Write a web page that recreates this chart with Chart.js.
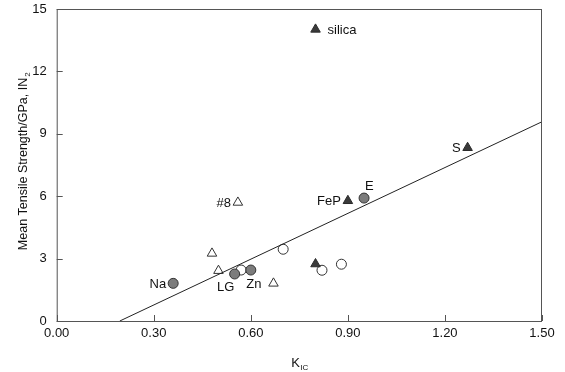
<!DOCTYPE html>
<html>
<head>
<meta charset="utf-8">
<script src="https://cdn.jsdelivr.net/npm/chart.js@4/dist/chart.umd.min.js"></script>
<style>
  html, body { margin: 0; padding: 0; background: #fff; }
  #wrap { width: 565px; height: 372px; }
</style>
</head>
<body>
<div id="wrap"><canvas id="chart" width="565" height="372"></canvas></div>
<script>
// values
const xTicks = [0.00, 0.30, 0.60, 0.90, 1.20, 1.50];
const yTicks = [0, 3, 6, 9, 12, 15];

const filledTriX = [0.80, 1.27, 0.90, 0.80];
const filledTriY = [14.02, 8.33, 5.78, 2.74];
const filledTriNames = ['silica', 'S', 'FeP', ''];

const openTriX = [0.56, 0.48, 0.50, 0.67];
const openTriY = [5.70, 3.25, 2.42, 1.81];
const openTriNames = ['#8', '', '', ''];

const filledCircX = [0.36, 0.55, 0.60, 0.95];
const filledCircY = [1.81, 2.26, 2.45, 5.91];
const filledCircNames = ['Na', 'LG', 'Zn', 'E'];

const openCircX = [0.57, 0.70, 0.82, 0.88];
const openCircY = [2.45, 3.45, 2.44, 2.73];

const fitX = [0.195, 1.50];
const fitY = [0, 9.58];

// where each name sits next to its marker
const placement = { 'silica': 'right', 'S': 'left', 'FeP': 'left', '#8': 'left',
                    'Na': 'left', 'LG': 'belowLeft', 'Zn': 'below', 'E': 'aboveRight' };

const FONT = '"Liberation Sans", Arial, sans-serif';
const INK = '#333';

function pts(xs, ys) { return xs.map((x, i) => ({ x: x, y: ys[i] })); }

const decorPlugin = {
    id: 'decor',
    afterDraw(chart) {
        const ctx = chart.ctx;
        const xs = chart.scales.x, ys = chart.scales.y;
        const a = chart.chartArea;
        ctx.save();
        // frame
        ctx.strokeStyle = '#555';
        ctx.lineWidth = 1;
        ctx.strokeRect(a.left + 0.5, a.top + 0.5, a.right - a.left - 1, a.bottom - a.top);
        // inward ticks
        ctx.beginPath();
        xTicks.forEach(v => {
            const px = Math.round(xs.getPixelForValue(v)) + 0.5;
            ctx.moveTo(px, a.bottom); ctx.lineTo(px, a.bottom - 6);
        });
        yTicks.forEach(v => {
            const py = Math.round(ys.getPixelForValue(v)) + 0.5;
            ctx.moveTo(a.left, py); ctx.lineTo(a.left + 6, py);
        });
        ctx.stroke();

        // point names
        ctx.fillStyle = '#111';
        ctx.font = '13px ' + FONT;
        ctx.textBaseline = 'middle';
        const sets = [[filledTriX, filledTriY, filledTriNames],
                      [openTriX, openTriY, openTriNames],
                      [filledCircX, filledCircY, filledCircNames]];
        sets.forEach(([X, Y, N]) => {
            N.forEach((name, i) => {
                if (!name) return;
                const px = xs.getPixelForValue(X[i]);
                const py = ys.getPixelForValue(Y[i]);
                const p = placement[name];
                if (p === 'right') { ctx.textAlign = 'left'; ctx.fillText(name, px + 12, py + 1); }
                else if (p === 'left') { ctx.textAlign = 'right'; ctx.fillText(name, px - 7, py + 1); }
                else if (p === 'below') { ctx.textAlign = 'center'; ctx.fillText(name, px + 3, py + 14); }
                else if (p === 'belowLeft') { ctx.textAlign = 'center'; ctx.fillText(name, px - 9, py + 13); }
                else if (p === 'aboveRight') { ctx.textAlign = 'left'; ctx.fillText(name, px + 1, py - 12); }
            });
        });

        // axis titles with subscripts
        ctx.fillStyle = '#111';
        ctx.textBaseline = 'alphabetic';
        // x title: K_IC
        ctx.font = '13px ' + FONT;
        ctx.textAlign = 'left';
        const kx = xs.getPixelForValue(0.75) - 8;
        ctx.fillText('K', kx, 367);
        ctx.font = '8px ' + FONT;
        ctx.fillText('IC', kx + 9, 370);
        // y title rotated
        ctx.translate(27, 161);
        ctx.rotate(-Math.PI / 2);
        ctx.font = '12.5px ' + FONT;
        const main = 'Mean Tensile Strength/GPa, IN';
        const w = ctx.measureText(main).width;
        ctx.textAlign = 'left';
        ctx.fillText(main, -w / 2 - 3, 0);
        ctx.font = '8px ' + FONT;
        ctx.fillText('2', w / 2 - 2, 3);
        ctx.restore();
    }
};

const chart = new Chart(document.getElementById('chart'), {
    type: 'scatter',
    data: {
        datasets: [
            {
                label: 'fit',
                type: 'line',
                data: pts(fitX, fitY),
                borderColor: '#222',
                borderWidth: 1,
                pointRadius: 0,
                fill: false
            },
            {
                label: 'filled triangles',
                data: pts(filledTriX, filledTriY),
                pointStyle: 'triangle',
                pointRadius: 5.5,
                backgroundColor: '#3a3a3a',
                borderColor: '#2a2a2a',
                borderWidth: 1
            },
            {
                label: 'open triangles',
                data: pts(openTriX, openTriY),
                pointStyle: 'triangle',
                pointRadius: 5.5,
                backgroundColor: '#fff',
                borderColor: INK,
                borderWidth: 1
            },
            {
                label: 'filled circles',
                data: pts(filledCircX, filledCircY),
                pointStyle: 'circle',
                pointRadius: 5,
                backgroundColor: '#7c7c7c',
                borderColor: INK,
                borderWidth: 1
            },
            {
                label: 'open circles',
                data: pts(openCircX, openCircY),
                pointStyle: 'circle',
                pointRadius: 5,
                backgroundColor: '#fff',
                borderColor: INK,
                borderWidth: 1
            }
        ]
    },
    options: {
        responsive: false,
        animation: false,
        layout: { padding: { left: 0, right: 23, top: 9, bottom: 0 } },
        plugins: {
            legend: { display: false },
            tooltip: { enabled: false }
        },
        scales: {
            x: {
                type: 'linear',
                min: 0, max: 1.5,
                afterFit: s => { s.height = 51; s.paddingLeft = 0; s.paddingRight = 0; },
                afterBuildTicks: s => { s.ticks = xTicks.map(v => ({ value: v })); },
                grid: { display: false, drawTicks: false },
                border: { display: false },
                ticks: {
                    color: '#111',
                    font: { family: FONT, size: 13 },
                    padding: 5,
                    maxRotation: 0,
                    callback: v => v.toFixed(2)
                }
            },
            y: {
                type: 'linear',
                min: 0, max: 15,
                afterFit: s => { s.width = 56.7; s.paddingTop = 0; s.paddingBottom = 0; },
                afterBuildTicks: s => { s.ticks = yTicks.map(v => ({ value: v })); },
                grid: { display: false, drawTicks: false },
                border: { display: false },
                ticks: {
                    color: '#111',
                    font: { family: FONT, size: 13 },
                    padding: 10,
                    callback: v => String(v)
                }
            }
        }
    },
    plugins: [decorPlugin]
});
</script>
</body>
</html>
